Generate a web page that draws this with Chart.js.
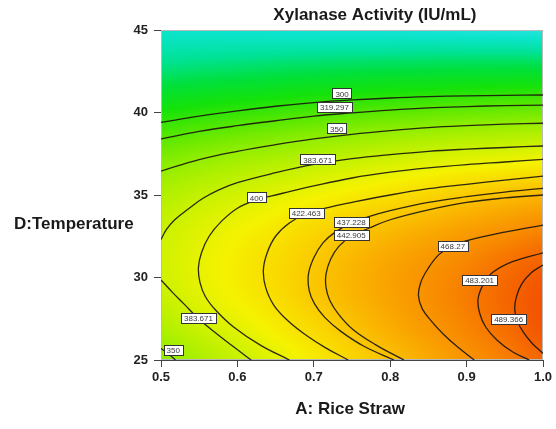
<!DOCTYPE html>
<html>
<head>
<meta charset="utf-8">
<script src="https://cdn.jsdelivr.net/npm/chart.js@4.4.1/dist/chart.umd.min.js"></script>
<style>
  html, body { margin: 0; padding: 0; background: #fff; }
</style>
</head>
<body>
<canvas id="contour" width="556" height="429"></canvas>
<script>
const FONT = "Arial, 'Liberation Sans', sans-serif";

// estimated activity on a coarse grid, rows from 25 to 45 °C
const gridX = [0.5, 0.55, 0.6, 0.65, 0.7, 0.75, 0.8, 0.85, 0.9, 0.95, 1.0];
const gridY = [25, 27, 29, 31, 33, 35, 37, 39, 41, 43, 45];
const activity = [
  [346, 363, 379, 395, 410, 424, 437, 450, 463, 474, 485],
  [366, 381, 395, 409, 422, 435, 448, 460, 471, 482, 493],
  [380, 394, 407, 419, 432, 443, 454, 465, 475, 485, 494],
  [385, 397, 409, 420, 431, 442, 452, 461, 470, 479, 487],
  [380, 391, 402, 412, 422, 431, 439, 447, 455, 462, 469],
  [366, 376, 385, 394, 402, 410, 417, 424, 431, 437, 442],
  [342, 351, 359, 366, 373, 380, 386, 392, 397, 401, 405],
  [309, 316, 323, 329, 335, 340, 345, 349, 353, 356, 359],
  [266, 272, 277, 282, 287, 291, 294, 297, 300, 302, 304],
  [214, 218, 222, 226, 229, 232, 234, 236, 237, 238, 238],
  [172, 170, 168, 166, 165, 164, 163, 162, 160, 158, 155]
];

const xTickLabels = ['0.5', '0.6', '0.7', '0.8', '0.9', '1.0'];
const yTickLabels = ['25', '30', '35', '40', '45'];

// contour paths as [rice straw, temperature]
const line300 = [[0.5, 39.4], [0.55, 39.78], [0.6, 40.1], [0.65, 40.38], [0.7, 40.6], [0.75, 40.76], [0.8, 40.88], [0.85, 40.96], [0.9, 41.01], [0.95, 41.04], [1.0, 41.06]];
const line319 = [[0.5, 38.4], [0.55, 38.85], [0.6, 39.2], [0.65, 39.5], [0.7, 39.78], [0.75, 39.98], [0.8, 40.15], [0.85, 40.28], [0.9, 40.36], [0.95, 40.42], [1.0, 40.45]];
const line350 = [[0.5, 36.45], [0.55, 37.15], [0.6, 37.65], [0.65, 38.05], [0.7, 38.4], [0.75, 38.68], [0.8, 38.9], [0.85, 39.08], [0.9, 39.2], [0.95, 39.29], [1.0, 39.35]];
const line350b = [[0.5, 25.7], [0.51, 25.35], [0.519, 25.0]];
const line383 = [[1.0, 37.97], [0.95, 37.88], [0.9, 37.78], [0.85, 37.65], [0.8, 37.45], [0.75, 37.2], [0.7, 36.85], [0.65, 36.35], [0.6, 35.75], [0.575, 35.3], [0.555, 34.8], [0.537, 34.2], [0.518, 33.5], [0.507, 32.9], [0.5, 32.3]];
const line383b = [[0.5, 29.85], [0.515, 29.1], [0.53, 28.4], [0.548, 27.55], [0.57, 26.7], [0.595, 25.8], [0.618, 25.0]];
const line400 = [[1.0, 37.16], [0.95, 37.0], [0.9, 36.84], [0.85, 36.64], [0.8, 36.38], [0.75, 36.03], [0.7, 35.55], [0.668, 35.2], [0.645, 34.95], [0.625, 34.7], [0.6, 34.2], [0.579, 33.4], [0.563, 32.5], [0.553, 31.5], [0.549, 30.6], [0.551, 29.7], [0.558, 28.85], [0.572, 28.0], [0.595, 27.0], [0.63, 25.9], [0.668, 25.0]];
const line422 = [[1.0, 36.15], [0.95, 35.9], [0.9, 35.65], [0.85, 35.38], [0.8, 35.0], [0.75, 34.55], [0.72, 34.25], [0.69, 33.85], [0.668, 33.3], [0.65, 32.5], [0.639, 31.5], [0.634, 30.45], [0.637, 29.4], [0.648, 28.3], [0.668, 27.3], [0.69, 26.5], [0.715, 25.75], [0.745, 25.0]];
const line437 = [[1.0, 35.4], [0.95, 35.18], [0.9, 34.9], [0.85, 34.55], [0.8, 34.05], [0.773, 33.7], [0.749, 33.3], [0.728, 32.75], [0.712, 32.1], [0.7, 31.2], [0.693, 30.2], [0.694, 29.2], [0.701, 28.4], [0.714, 27.6], [0.735, 26.75], [0.765, 25.85], [0.805, 25.0]];
const line442 = [[1.0, 35.0], [0.95, 34.82], [0.9, 34.55], [0.85, 34.1], [0.8, 33.5], [0.773, 33.0], [0.749, 32.5], [0.733, 31.9], [0.722, 31.1], [0.716, 30.2], [0.716, 29.4], [0.721, 28.6], [0.732, 27.8], [0.75, 26.9], [0.78, 25.95], [0.818, 25.0]];
const line468 = [[1.0, 33.18], [0.95, 32.75], [0.903, 32.27], [0.882, 31.95], [0.864, 31.4], [0.849, 30.5], [0.84, 29.7], [0.837, 28.9], [0.842, 28.1], [0.855, 27.3], [0.87, 26.55], [0.888, 25.8], [0.91, 25.0]];
const line483 = [[1.0, 31.5], [0.96, 30.96], [0.934, 30.3], [0.922, 29.6], [0.915, 28.7], [0.917, 27.85], [0.925, 27.0], [0.94, 26.2], [0.96, 25.5], [0.982, 25.0]];
const line489 = [[1.0, 30.76], [0.985, 30.3], [0.972, 29.6], [0.965, 28.8], [0.963, 28.1], [0.966, 27.4], [0.974, 26.7], [0.986, 26.0], [1.0, 25.4]];

const contours = [
  [300, line300], [319.297, line319], [350, line350], [350, line350b],
  [383.671, line383], [383.671, line383b], [400, line400], [422.463, line422],
  [437.228, line437], [442.905, line442], [468.27, line468], [483.201, line483],
  [489.366, line489]
];

// where each level tag sits: [level, rice straw, temperature]
const labelSpots = [
  [300, 0.737, 41.16], [319.297, 0.727, 40.35], [350, 0.730, 39.04],
  [383.671, 0.705, 37.16], [400, 0.625, 34.86], [422.463, 0.690, 33.93],
  [437.228, 0.749, 33.38], [442.905, 0.749, 32.58], [468.27, 0.882, 31.9],
  [483.201, 0.917, 29.85], [489.366, 0.955, 27.48], [383.671, 0.549, 27.53],
  [350, 0.516, 25.62]
];

// colour ramp: low = cyan/green, high = orange/red
const rampStops = [
  [150, [45, 228, 225]], [170, [12, 228, 205]], [210, [0, 226, 150]],
  [250, [0, 224, 60]], [285, [20, 226, 10]], [320, [90, 232, 0]],
  [350, [150, 238, 0]], [385, [210, 242, 0]], [405, [245, 242, 0]],
  [425, [250, 212, 0]], [445, [250, 178, 0]], [470, [248, 135, 0]],
  [490, [244, 92, 0]], [500, [240, 70, 0]]
];

function rampColour(v) {
  if (v <= rampStops[0][0]) return rampStops[0][1];
  for (let i = 1; i < rampStops.length; i++) {
    const [v1, c1] = rampStops[i];
    if (v <= v1) {
      const [v0, c0] = rampStops[i - 1];
      const t = (v - v0) / (v1 - v0);
      return [0, 1, 2].map((k) => c0[k] + (c1[k] - c0[k]) * t);
    }
  }
  return rampStops[rampStops.length - 1][1];
}

const clamp = (v, lo, hi) => Math.max(lo, Math.min(hi, v));

function cubic(p0, p1, p2, p3, t) {
  return p1 + 0.5 * t * (p2 - p0 + t * (2 * p0 - 5 * p1 + 4 * p2 - p3 + t * (3 * (p1 - p2) + p3 - p0)));
}

// smooth lookup in grid units (column, row)
function sampleGrid(gx, gy) {
  const nx = gridX.length, ny = gridY.length;
  gx = clamp(gx, 0, nx - 1);
  gy = clamp(gy, 0, ny - 1);
  const ix = Math.min(Math.floor(gx), nx - 2);
  const iy = Math.min(Math.floor(gy), ny - 2);
  const tx = gx - ix, ty = gy - iy;
  const at = (r, c) => activity[clamp(r, 0, ny - 1)][clamp(c, 0, nx - 1)];
  const rowVals = [];
  for (let k = -1; k <= 2; k++) {
    const r = iy + k;
    rowVals.push(cubic(at(r, ix - 1), at(r, ix), at(r, ix + 1), at(r, ix + 2), tx));
  }
  return cubic(rowVals[0], rowVals[1], rowVals[2], rowVals[3], ty);
}

const surfacePlugin = {
  id: 'surface',
  beforeDatasetsDraw(chart) {
    const { ctx, chartArea: a, scales: { x, y } } = chart;
    const w = Math.round(a.right - a.left);
    const h = Math.round(a.bottom - a.top);
    const off = document.createElement('canvas');
    off.width = w;
    off.height = h;
    const octx = off.getContext('2d');
    const img = octx.createImageData(w, h);
    const stepX = gridX[1] - gridX[0];
    const stepY = gridY[1] - gridY[0];
    const cols = [];
    const rows = [];
    for (let i = 0; i < w; i++) cols.push((x.getValueForPixel(a.left + i + 0.5) - gridX[0]) / stepX);
    for (let j = 0; j < h; j++) rows.push((y.getValueForPixel(a.top + j + 0.5) - gridY[0]) / stepY);
    for (let j = 0; j < h; j++) {
      for (let i = 0; i < w; i++) {
        const c = rampColour(sampleGrid(cols[i], rows[j]));
        const p = (j * w + i) * 4;
        img.data[p] = c[0];
        img.data[p + 1] = c[1];
        img.data[p + 2] = c[2];
        img.data[p + 3] = 255;
      }
    }
    octx.putImageData(img, 0, 0);
    ctx.save();
    ctx.drawImage(off, a.left, a.top);
    ctx.strokeStyle = '#b8b8b8';
    ctx.lineWidth = 1;
    ctx.strokeRect(a.left + 0.5, a.top + 0.5, w - 1, h - 1);
    ctx.restore();
  }
};

const tagPlugin = {
  id: 'levelTags',
  afterDatasetsDraw(chart) {
    const { ctx, scales: { x, y } } = chart;
    ctx.save();
    ctx.font = `8px ${FONT}`;
    ctx.textAlign = 'center';
    ctx.textBaseline = 'middle';
    labelSpots.forEach(([level, lx, ly]) => {
      const text = String(level);
      const px = x.getPixelForValue(lx);
      const py = y.getPixelForValue(ly);
      const tw = ctx.measureText(text).width + 6;
      const th = 10;
      ctx.fillStyle = '#ffffff';
      ctx.fillRect(Math.round(px - tw / 2) + 0.5, Math.round(py - th / 2) + 0.5, Math.round(tw), th);
      ctx.strokeStyle = '#333333';
      ctx.lineWidth = 1;
      ctx.strokeRect(Math.round(px - tw / 2) + 0.5, Math.round(py - th / 2) + 0.5, Math.round(tw), th);
      ctx.fillStyle = '#3a3a3a';
      ctx.fillText(text, px, py + 1);
    });
    ctx.restore();
  }
};

const captionPlugin = {
  id: 'captions',
  afterDraw(chart) {
    const { ctx, chartArea: a } = chart;
    ctx.save();
    ctx.fillStyle = '#1a1a1a';
    ctx.font = `bold 17px ${FONT}`;
    ctx.textBaseline = 'middle';
    ctx.textAlign = 'center';
    ctx.fillText('Xylanase Activity (IU/mL)', a.left + a.width * 0.56, a.top - 15);
    ctx.fillText('A: Rice Straw', a.left + a.width * 0.495, a.bottom + 49);
    ctx.textAlign = 'left';
    ctx.fillText('D:Temperature', 14, a.top + a.height * 0.59);
    ctx.restore();
  }
};

const tickFont = { family: FONT, size: 13, weight: 'bold' };

new Chart(document.getElementById('contour'), {
  type: 'scatter',
  data: {
    datasets: contours.map(([level, pts]) => ({
      label: String(level),
      data: pts.map(([x, y]) => ({ x, y })),
      showLine: true,
      fill: false,
      borderColor: 'rgba(24, 20, 16, 0.9)',
      borderWidth: 1.3,
      pointRadius: 0,
      pointHoverRadius: 0,
      tension: 0.4
    }))
  },
  options: {
    responsive: false,
    animation: false,
    events: [],
    layout: { padding: { left: 0, top: 30, right: 13, bottom: 0 } },
    plugins: {
      legend: { display: false },
      tooltip: { enabled: false }
    },
    scales: {
      x: {
        type: 'linear',
        min: 0.5,
        max: 1.0,
        afterFit: (s) => { s.height = 69; },
        ticks: {
          stepSize: 0.1,
          padding: 3,
          color: '#222',
          font: tickFont,
          maxRotation: 0,
          autoSkip: false,
          callback: (v, i) => xTickLabels[i]
        },
        grid: { drawOnChartArea: false, tickLength: 7, color: '#444' },
        border: { color: '#444', width: 1 }
      },
      y: {
        type: 'linear',
        min: 25,
        max: 45,
        afterFit: (s) => { s.width = 161; },
        ticks: {
          stepSize: 5,
          padding: 6,
          color: '#222',
          font: tickFont,
          callback: (v, i) => yTickLabels[i]
        },
        grid: { drawOnChartArea: false, tickLength: 7, color: '#444' },
        border: { color: '#444', width: 1 }
      }
    }
  },
  plugins: [surfacePlugin, tagPlugin, captionPlugin]
});
</script>
</body>
</html>
